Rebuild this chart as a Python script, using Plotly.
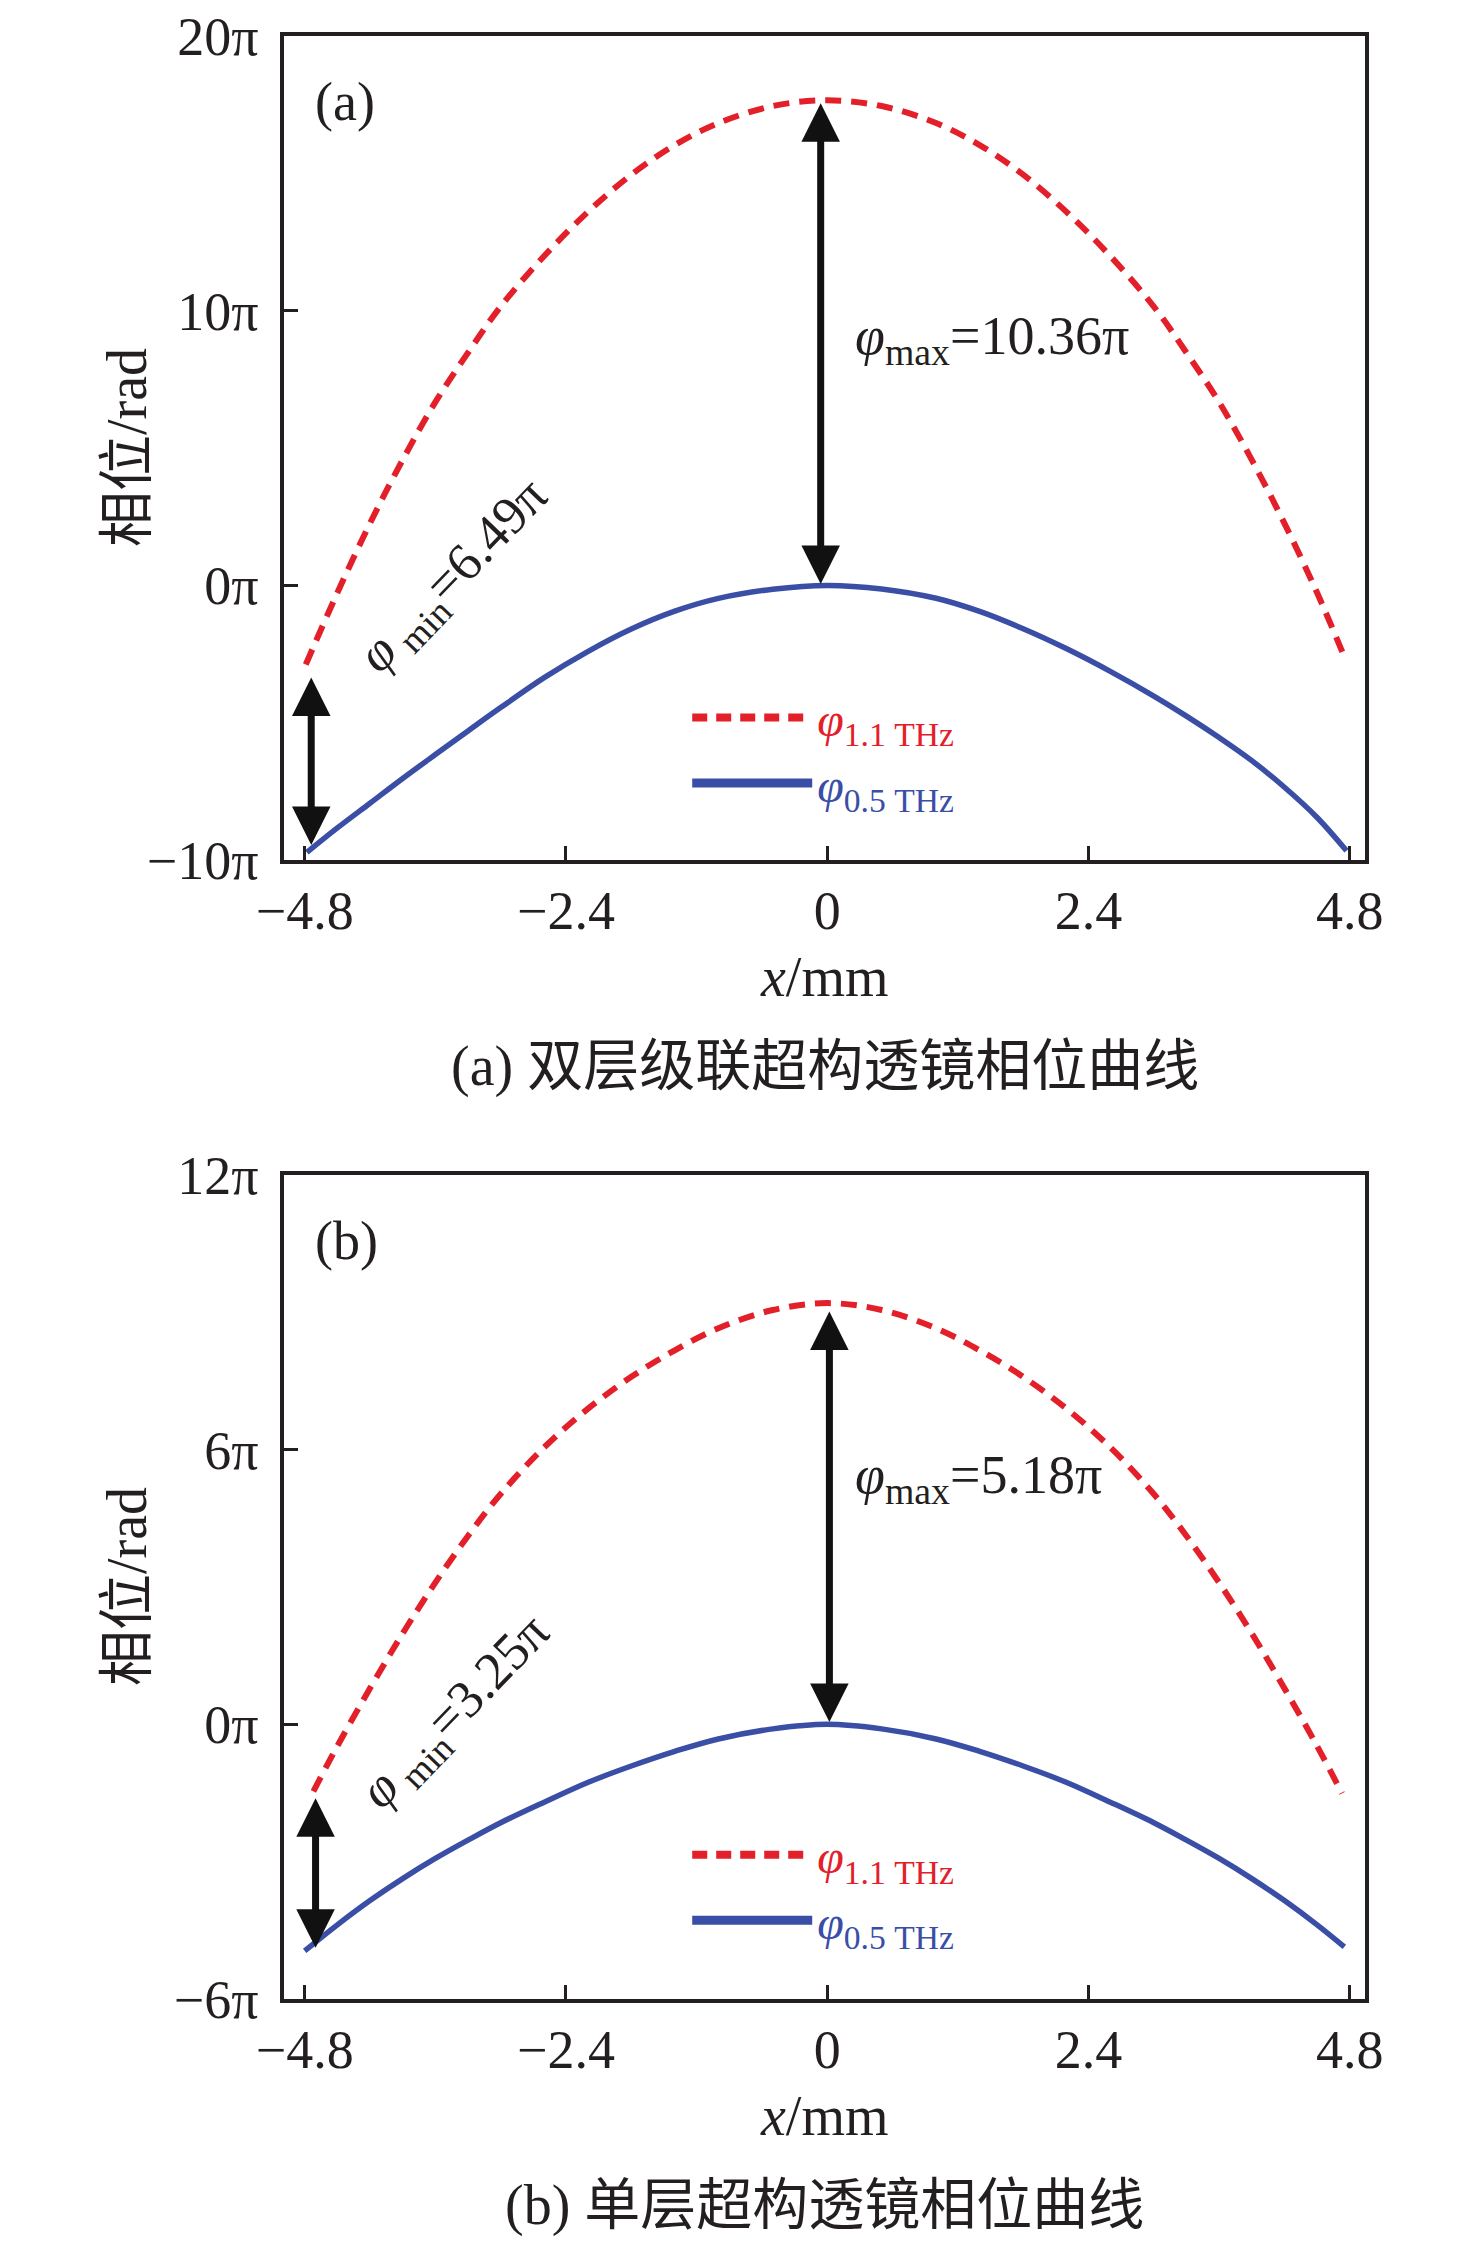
import plotly.graph_objects as go

# ---------------- data (phase in units of pi) ----------------
x_a_red = [-4.79, -4.5, -4.2, -3.9, -3.6, -3.3, -3.0, -2.6, -2.2, -1.8, -1.4, -1.0, -0.5, 0.0,
           0.5, 1.0, 1.4, 1.8, 2.2, 2.6, 3.0, 3.3, 3.6, 3.9, 4.2, 4.5, 4.74]
y_a_red = [-2.88, -0.27, 2.26, 4.57, 6.67, 8.47, 10.15, 11.99, 13.59, 14.95, 16.03, 16.83, 17.45, 17.66,
           17.45, 16.83, 16.03, 14.95, 13.59, 11.99, 10.15, 8.47, 6.67, 4.57, 2.26, -0.27, -2.5]
x_a_blue = [-4.78, -4.5, -4.2, -3.9, -3.6, -3.3, -3.0, -2.6, -2.2, -1.8, -1.4, -1.0, -0.5, 0.0,
            0.5, 1.0, 1.4, 1.8, 2.2, 2.6, 3.0, 3.3, 3.6, 3.9, 4.2, 4.5, 4.77]
y_a_blue = [-9.72, -8.83, -7.93, -7.03, -6.16, -5.30, -4.45, -3.36, -2.41, -1.59, -0.94, -0.475, -0.14, 0.0,
            -0.13, -0.47, -0.95, -1.58, -2.31, -3.13, -4.03, -4.76, -5.54, -6.38, -7.35, -8.45, -9.66]

x_b_red = [-4.72, -4.5, -4.2, -3.9, -3.6, -3.3, -3.0, -2.6, -2.2, -1.8, -1.4, -1.0, -0.5, 0.0,
           0.5, 1.0, 1.4, 1.8, 2.2, 2.6, 3.0, 3.3, 3.6, 3.9, 4.2, 4.5, 4.73]
y_b_red = [-1.465, -0.475, 0.785, 1.985, 3.095, 4.115, 5.03, 6.05, 6.89, 7.59, 8.17, 8.65, 9.05, 9.2,
           9.05, 8.65, 8.17, 7.59, 6.89, 6.05, 5.03, 4.115, 3.095, 1.985, 0.785, -0.475, -1.51]
x_b_blue = [-4.8, -4.5, -4.2, -3.9, -3.6, -3.3, -3.0, -2.6, -2.2, -1.8, -1.4, -1.0, -0.5, 0.0,
            0.5, 1.0, 1.4, 1.8, 2.2, 2.6, 3.0, 3.3, 3.6, 3.9, 4.2, 4.5, 4.75]
y_b_blue = [-4.95, -4.38, -3.85, -3.37, -2.93, -2.53, -2.15, -1.70, -1.27, -0.91, -0.59, -0.32, -0.10, 0.0,
            -0.10, -0.32, -0.59, -0.91, -1.27, -1.70, -2.15, -2.53, -2.93, -3.37, -3.85, -4.38, -4.86]

x_ticks = [-4.8, -2.4, 0, 2.4, 4.8]
x_ticktext = ["\u22124.8", "\u22122.4", "0", "2.4", "4.8"]
ya_ticks = [-10, 0, 10, 20]
ya_ticktext = ["\u221210π", "0π", "10π", "20π"]
yb_ticks = [-6, 0, 6, 12]
yb_ticktext = ["\u22126π", "0π", "6π", "12π"]

phi_max_a = "10.36π"
phi_min_a = "6.49π"
phi_max_b = "5.18π"
phi_min_b = "3.25π"

caption_a = "(a) 双层级联超构透镜相位曲线"
caption_b = "(b) 单层超构透镜相位曲线"

RED = "#e3202a"
BLUE = "#3a4ea6"
BLACK = "#231f20"
FONT = "Liberation Serif, Noto Sans CJK SC, serif"

RED_NAME = '<span style="color:%s"><i>φ</i><sub>1.1 THz</sub></span>' % RED
BLUE_NAME = '<span style="color:%s"><i>φ</i><sub>0.5 THz</sub></span>' % BLUE

fig = go.Figure()

for xa, ya, lg, xr, yr, xb, yb in (("x", "y", "legend", x_a_red, y_a_red, x_a_blue, y_a_blue),
                                   ("x2", "y2", "legend2", x_b_red, y_b_red, x_b_blue, y_b_blue)):
    fig.add_trace(go.Scatter(x=xr, y=yr, mode="lines", showlegend=False, xaxis=xa, yaxis=ya,
                             line=dict(color=RED, width=6, dash="16px,10px", shape="spline", smoothing=1.0)))
    fig.add_trace(go.Scatter(x=xb, y=yb, mode="lines", showlegend=False, xaxis=xa, yaxis=ya,
                             line=dict(color=BLUE, width=5.5, shape="spline", smoothing=1.0)))
    # legend-only entries (thicker symbols as in the original legend)
    fig.add_trace(go.Scatter(x=[None], y=[None], mode="lines", name=RED_NAME, xaxis=xa, yaxis=ya, legend=lg,
                             line=dict(color=RED, width=8, dash="15px,9px")))
    fig.add_trace(go.Scatter(x=[None], y=[None], mode="lines", name=BLUE_NAME, xaxis=xa, yaxis=ya, legend=lg,
                             line=dict(color=BLUE, width=9)))

axis_common = dict(showline=True, linecolor=BLACK, linewidth=3.5, mirror=True, ticks="inside",
                   ticklen=14, tickwidth=3, tickcolor=BLACK, showgrid=False, zeroline=False,
                   automargin=False, ticklabeloverflow="allow",
                   tickfont=dict(family=FONT, size=54, color=BLACK))

legend_common = dict(xanchor="left", yanchor="top", bgcolor="rgba(0,0,0,0)",
                     font=dict(family=FONT, size=48), itemwidth=120, tracegroupgap=0)

fig.update_layout(
    width=1468, height=2236,
    margin=dict(l=276, r=111, t=28, b=245, autoexpand=False),
    paper_bgcolor="white", plot_bgcolor="white",
    font=dict(family=FONT, color=BLACK),
    xaxis=dict(domain=[0, 1], anchor="y", range=[-4.99, 4.94], tickvals=x_ticks, ticktext=x_ticktext,
               ticklabelstandoff=0, **axis_common),
    yaxis=dict(domain=[0.5802, 1], anchor="x", range=[-10, 20], tickvals=ya_ticks, ticktext=ya_ticktext,
               ticklabelstandoff=11, **axis_common),
    xaxis2=dict(domain=[0, 1], anchor="y2", range=[-4.99, 4.94], tickvals=x_ticks, ticktext=x_ticktext,
                ticklabelstandoff=0, **axis_common),
    yaxis2=dict(domain=[0, 0.4198], anchor="x2", range=[-6, 12], tickvals=yb_ticks, ticktext=yb_ticktext,
                ticklabelstandoff=11, **axis_common),
    legend=dict(x=0.373, y=0.672, **legend_common),
    legend2=dict(x=0.373, y=0.0927, **legend_common),
    showlegend=True,
)

ann = []
for xa, ya, cap in (("x", "y", caption_a), ("x2", "y2", caption_b)):
    xd, yd = xa + " domain", ya + " domain"
    ann.append(dict(xref=xd, yref=yd, x=0.5, y=0, yshift=-117, xanchor="center", yanchor="middle",
                    text="<i>x</i>/mm", showarrow=False, font=dict(family=FONT, size=56, color=BLACK)))
    ann.append(dict(xref=xd, yref=yd, x=0, y=0.5, xshift=-157, xanchor="center", yanchor="middle",
                    text="相位/rad", textangle=-90, showarrow=False, font=dict(family=FONT, size=56, color=BLACK)))
    ann.append(dict(xref=xd, yref=yd, x=0.5, y=0, yshift=-206, xanchor="center", yanchor="middle",
                    text=cap, showarrow=False, font=dict(family=FONT, size=56, color=BLACK)))
    ann.append(dict(xref=xd, yref=yd, x=0, y=1, xshift=29, yshift=-66, xanchor="left", yanchor="middle",
                    text="(%s)" % cap[1], showarrow=False, font=dict(family=FONT, size=54, color=BLACK)))


def arrow(xa, ya, x, y_top, y_bottom):
    return dict(xref=xa, yref=ya, axref=xa, ayref=ya, x=x, y=y_bottom, ax=x, ay=y_top, text="",
                showarrow=True, arrowhead=2, startarrowhead=2, arrowside="end+start",
                arrowsize=1.1, startarrowsize=1.1, arrowwidth=7, arrowcolor="#111111",
                standoff=0, startstandoff=0)


# panel (a): arrows and labels
ann.append(arrow("x", "y", -4.74, -3.3, -9.45))
ann.append(arrow("x", "y", -0.06, max(y_a_red) - 0.05, max(y_a_blue) + 0.05))
ann.append(dict(xref="x", yref="y", x=0.24, y=8.96, xanchor="left", yanchor="middle", showarrow=False,
                text="<i>φ</i><sub>max</sub>=" + phi_max_a, font=dict(family=FONT, size=54, color=BLACK)))
ann.append(dict(xref="x", yref="y", x=-3.42, y=0.3, xanchor="center", yanchor="middle", showarrow=False,
                textangle=-46, text="<i>φ</i><sub> min</sub>=" + phi_min_a,
                font=dict(family=FONT, size=53, color=BLACK)))

# panel (b): arrows and labels
ann.append(arrow("x2", "y2", -4.70, -1.58, -4.88))
ann.append(arrow("x2", "y2", 0.02, max(y_b_red) - 0.15, max(y_b_blue) + 0.05))
ann.append(dict(xref="x2", yref="y2", x=0.24, y=5.37, xanchor="left", yanchor="middle", showarrow=False,
                text="<i>φ</i><sub>max</sub>=" + phi_max_b, font=dict(family=FONT, size=54, color=BLACK)))
ann.append(dict(xref="x2", yref="y2", x=-3.4, y=0.24, xanchor="center", yanchor="middle", showarrow=False,
                textangle=-46, text="<i>φ</i><sub> min</sub>=" + phi_min_b,
                font=dict(family=FONT, size=53, color=BLACK)))

fig.update_layout(annotations=ann)
fig.write_html("out.html")
